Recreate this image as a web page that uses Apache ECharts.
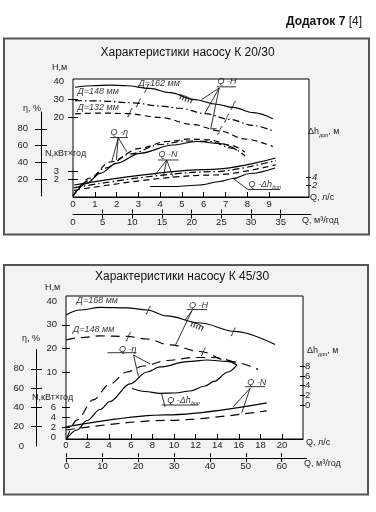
<!DOCTYPE html>
<html><head><meta charset="utf-8">
<script src="https://cdn.jsdelivr.net/npm/echarts@6/dist/echarts.min.js"></script>
<style>html,body{margin:0;padding:0;background:#fff}#c{width:376px;height:512px}</style>
</head><body><div id="c"></div>
<script>
// ================= Panel 1: насос К 20/30 (Q in л/с) =================
const k20_qTicks = [1,2,3,4,5,6,7,8,9];
const k20_qLabels = [0,1,2,3,4,5,6,7,8,9];
const k20_qm3Ticks = [5,10,15,20,25,30,35];
const k20_qm3Labels = [0,5,10,15,20,25,30,35];
const k20_hTicks = [20,30];
const k20_hLabels = [20,30,40];
const k20_etaTicks = [20,40,60,80];
const k20_etaLabels = [20,40,60,80];
const k20_nTicks = [2,3];
const k20_dhTicks = [2,4];
// Q-H curves for impeller diameters
const k20_H162 = [[0.09,36.6],[0.93,37.4],[1.70,37.8],[2.46,37.4],[3.53,36.0],[4.45,33.6],[5.52,30.0],[6.59,27.3],[7.35,25.6],[8.27,22.7],[9.17,19.4]];
const k20_H148 = [[0.09,29.3],[1.24,29.1],[2.75,28.1],[3.99,26.3],[4.91,25.1],[6.06,22.2],[7.20,19.0],[8.26,15.7],[9.17,12.7]];
const k20_H132 = [[0.09,22.0],[1.24,22.5],[2.48,22.2],[3.99,20.1],[5.51,16.2],[6.74,12.7],[7.89,8.3],[9.17,4.2]];
// Q-η curves
const k20_eta162 = [[0,0],[0.63,15.1],[1.24,27.0],[2.0,38.9],[3.07,50.8],[4.59,60.7],[5.67,64.9],[6.74,62.5],[7.52,54.8]];
const k20_eta148 = [[0,0],[0.69,17.9],[1.47,33.3],[2.61,50.0],[3.99,61.3],[5.14,65.5],[6.28,64.9],[7.29,57.1],[7.89,47.6]];
const k20_eta132 = [[0,0],[0.78,21.4],[1.70,40.5],[3.07,56.8],[4.31,64.9],[5.37,67.9],[6.28,66.7],[7.20,60.7],[7.89,52.4]];
// Q-N curves
const k20_N162 = [[0.05,1.33],[6.42,3.22],[9.3,4.58]];
const k20_N148 = [[0.05,1.0],[6.42,2.93],[9.3,4.28]];
const k20_N132 = [[0.05,0.68],[6.42,2.53],[9.3,3.76]];
// Q-Δh доп curve
const k20_dh = [[3.53,1.61],[4.68,1.61],[5.83,2.0],[6.74,2.91],[7.34,3.69],[8.12,4.99],[9.27,6.42]];
// annotations (in Q, H units)
const k20_texts = [['Д=162 мм',2.98,38.6],['Д=148 мм',0.18,34.0],['Д=132 мм',0.18,25.5],['Q -H',6.61,39.5],['Q -η',1.70,11.6],['Q -N',3.90,-0.44],['{a|Q -Δh}{s|доп}',8.03,-16.8]];
const k20_leaders = [
  [[6.61,36.8],[7.48,36.8]], [[6.71,36.2],[5.90,29.8]], [[6.71,36.2],[6.06,22.5]], [[6.71,36.2],[6.32,13.9],[6.59,13.9]],
  [[1.70,9.1],[2.52,9.1]], [[2.08,9.1],[1.78,-4.1]], [[2.08,9.1],[1.99,-3.2]], [[2.08,9.1],[2.46,1.4]],
  [[3.90,-3.17],[4.84,-3.17]], [[4.30,-3.17],[3.76,-11.4]], [[4.30,-3.17],[4.14,-12.3]], [[4.30,-3.17],[4.60,-12.6]],
  [[7.34,-13.2],[8.03,-19.3],[9.50,-19.3]]
];
const k20_breaks = [[3.38,36.0],[7.35,26.7],[3.0,28.1],[7.05,19.7],[2.61,22.7],[6.74,13.0]];
const k20_hatch = [[5.18,30.2]];

// ================= Panel 2: насос К 45/30 =================
const k45_qTicks = [2,4,6,8,10,12,14,16,18,20];
const k45_qLabels = [0,2,4,6,8,10,12,14,16,18,20];
const k45_qm3Ticks = [0,10,20,30,40,50,60];
const k45_qm3Labels = [0,10,20,30,40,50,60];
const k45_hTicks = [10,20,30];
const k45_hLabels = [10,20,30,40];
const k45_etaTicks = [20,40,60,80];
const k45_etaLabels = [0,20,40,60,80];
const k45_nTicks = [2,4,6];
const k45_nLabels = [0,2,4,6];
const k45_dhTicks = [0,2,4,6,8];
const k45_H168 = [[0,34.2],[1.30,36.3],[3.15,37.4],[5.65,37.2],[7.50,36.3],[9.35,33.8],[12.41,30.8],[15.65,27.2],[19.35,21.7]];
const k45_H148 = [[0,23.6],[1.30,24.6],[3.15,25.3],[5.65,25.1],[7.50,24.0],[9.63,21.5],[12.41,18.7],[15.19,14.5],[17.78,11.1]];
const k45_eta168 = [[0.05,7.3],[1.02,16.6],[1.94,26.4],[3.15,37.8],[4.07,46.1],[5.93,64.3],[7.50,76.7],[8.70,81.9],[11.2,87.4],[13.06,89.1],[14.91,87.6],[15.83,83.9]];
const k45_eta148 = [[0.05,7.3],[1.02,26.9],[2.50,47.7],[4.07,64.3],[5.65,76.7],[7.13,82.9],[9.35,88.6],[11.76,91.7],[13.61,91.7],[15.83,86.0]];
const k45_N168 = [[0,2.1],[9.3,4.5],[18.58,6.9]];
const k45_N148 = [[0,1.46],[9.3,3.38],[18.58,5.3]];
const k45_dh = [[6.11,3.4],[7.31,2.78],[8.70,2.41],[10.09,2.47],[11.48,2.89],[12.87,3.92],[13.7,4.85],[15.0,6.8],[15.83,8.25]];
const k45_texts = [['Д=168 мм',0.93,40.55],['Д=148 мм',0.60,28.04],['Q -H',11.34,38.43],['Q -η',4.86,19.76],['{a|Q -Δh}{s|доп}',9.32,-2.09],['Q -N',16.73,5.46]];
const k45_leaders = [
  [[11.2,36.5],[13.06,36.5]], [[11.67,36.1],[11.02,32.0]], [[11.67,36.1],[10.09,21.0]],
  [[3.84,18.19],[6.53,18.19]], [[6.25,17.22],[6.71,8.09]], [[6.25,17.22],[7.78,13.40]],
  [[8.86,-4.0],[12.25,-4.0]], [[8.84,0.97],[9.17,-4.85]],
  [[16.57,3.77],[18.45,3.77]], [[17.04,3.09],[15.49,-4.72]], [[17.04,3.09],[16.27,-7.26]]
];
const k45_breaks = [[7.62,36.3],[15.49,27.1],[5.77,25.0],[12.71,18.6]];
const k45_hatch = [[12.13,29.5]];

// ================= build =================
const FONT = 'Liberation Sans';
const TXT = '#222';
function tick(vals, inside, len){ return {show:true, inside, length:len, customValues:vals, lineStyle:{color:'#000', width:1}}; }
function lab(vals, margin, extra){ return Object.assign({show:true, customValues:vals, margin, fontSize:9.5, color:TXT, fontFamily:FONT, showMinLabel:true, showMaxLabel:true, hideOverlap:false}, extra||{}); }
function ax(grid, min, max, pos, o){
  return Object.assign({type:'value', gridIndex:grid, min, max, position:pos,
    axisLine:{show:false, onZero:false}, splitLine:{show:false}, axisTick:{show:false}, axisLabel:{show:false}}, o||{});
}
// one axis per label, so that closely spaced labels are never dropped
function labelAxes(grid, min, max, pos, vals, margin, extra){
  return vals.map(v => ax(grid, min, max, pos, {axisLabel:lab([v], margin, extra)}));
}
const LINE = {show:true, onZero:false, lineStyle:{color:'#000', width:1}};

const grid = [
  {left:73, top:79, width:236, height:118, show:true, backgroundColor:'#fff', borderColor:'#000', borderWidth:1, outerBoundsMode:'none'},
  {left:41, top:112, width:1, height:84, outerBoundsMode:'none'},
  {left:73, top:213.5, width:238, height:1, outerBoundsMode:'none'},
  {left:66, top:296, width:237, height:143, show:true, backgroundColor:'#fff', borderColor:'#000', borderWidth:1, outerBoundsMode:'none'},
  {left:36, top:349.5, width:1, height:96.5, outerBoundsMode:'none'},
  {left:66.7, top:457.2, width:240, height:1, outerBoundsMode:'none'}
];
const xAxis = [
  ax(0, 0, 10.83, 'bottom', {axisLine:LINE, axisTick:tick(k20_qTicks,true,5), axisLabel:lab(k20_qLabels,2)}),
  ax(1, 0, 1, 'bottom', {show:false}),
  ax(2, 0, 40.1, 'bottom', {axisLine:LINE, axisTick:tick(k20_qm3Ticks,false,4), axisLabel:lab(k20_qm3Labels,3)}),
  ax(2, 0, 40.1, 'top', {axisTick:tick(k20_qm3Ticks,false,4)}),
  ax(3, 0, 21.94, 'bottom', {axisLine:LINE, axisTick:tick(k45_qTicks,true,5), axisLabel:lab(k45_qLabels,1)}),
  ax(4, 0, 1, 'bottom', {show:false}),
  ax(5, 0, 66.98, 'bottom', {axisLine:LINE, axisTick:tick(k45_qm3Ticks,false,4), axisLabel:lab(k45_qm3Labels,3)}),
  ax(5, 0, 66.98, 'top', {axisTick:tick(k45_qm3Ticks,false,4)})
];
const yAxis = [
  ax(0, -23.4, 41.1, 'left', {axisTick:tick(k20_hTicks,false,5), axisLabel:lab(k20_hLabels,9)}),      //0 H
  ax(0, -23.4, 41.1, 'left', {axisTick:tick(k20_hTicks,true,5)}),                                   //1
  ax(0, -1.19, 139.29, 'left', {show:false}),                                                        //2 η hidden
  ax(0, -0.12, 14.10, 'left', {axisTick:tick(k20_nTicks,false,5)}),                                 //3 N
  ax(0, -0.12, 14.10, 'left', {axisTick:tick(k20_nTicks,true,5)}),                                  //4
  ax(0, -1.12, 29.53, 'right', {axisTick:tick(k20_dhTicks,false,2)}),                               //5 Δh
  ax(0, -1.12, 29.53, 'right', {axisTick:tick(k20_dhTicks,true,3)}),                                //6
  ax(1, 0, 100, 'left', {axisLine:LINE, axisTick:tick(k20_etaTicks,false,6), axisLabel:lab(k20_etaLabels,13)}), //7 η visible
  ax(1, 0, 100, 'right', {axisTick:tick(k20_etaTicks,false,5)}),                                    //8
  ax(2, 0, 1, 'left', {show:false}),                                                                 //9
  ax(3, -18.42, 42.25, 'left', {axisTick:tick(k45_hTicks,false,4), axisLabel:lab(k45_hLabels,9)}),  //10 H
  ax(3, -18.42, 42.25, 'left', {axisTick:tick(k45_hTicks,true,4)}),                                 //11
  ax(3, 7.25, 155.44, 'left', {show:false}),                                                         //12 η hidden
  ax(3, -0.34, 28.26, 'left', {axisTick:tick(k45_nTicks,false,4)}),                                 //13 N
  ax(3, -0.34, 28.26, 'left', {axisTick:tick(k45_nTicks,true,4)}),                                  //14
  ax(3, -7.01, 22.47, 'right', {axisTick:tick(k45_dhTicks,false,2)}),                               //15 Δh
  ax(3, -7.01, 22.47, 'right', {axisTick:tick(k45_dhTicks,true,3)}),                                //16
  ax(4, 0, 100, 'left', {axisLine:LINE, axisTick:tick(k45_etaTicks,false,5), axisLabel:lab(k45_etaLabels,12)}), //17
  ax(4, 0, 100, 'right', {axisTick:tick(k45_etaTicks,false,5)}),                                    //18
  ax(5, 0, 1, 'left', {show:false})                                                                  //19
].concat(
  labelAxes(0, -0.12, 14.10, 'left', k20_nTicks, 14),
  labelAxes(0, -1.12, 29.53, 'right', k20_dhTicks, 3, {fontStyle:'italic'}),
  labelAxes(3, -0.34, 28.26, 'left', k45_nLabels, 10),
  labelAxes(3, -7.01, 22.47, 'right', k45_dhTicks, 2)
);

const DASH1 = [6,4], DDOT = [7,3,1.5,3], DASH2 = [9,6];
function curve(xi, yi, data, type, w){
  return {type:'line', xAxisIndex:xi, yAxisIndex:yi, data, symbol:'none', smooth:0.35, smoothMonotone:'x',
    silent:true, animation:false, lineStyle:{color:'#000', width:w||1.2, type:type||'solid'}, z:3};
}
function leader(xi, yi, data){
  return {type:'line', xAxisIndex:xi, yAxisIndex:yi, data, symbol:'none', smooth:false, silent:true, animation:false,
    lineStyle:{color:'#000', width:0.8}, z:4};
}
const RICH = {a:{fontSize:9, fontStyle:'italic', color:'#000', fontFamily:FONT}, s:{fontSize:5.5, fontStyle:'italic', color:'#000', fontFamily:FONT, padding:[6,0,0,0]}};
function text(xi, yi, t){
  return {type:'scatter', xAxisIndex:xi, yAxisIndex:yi, data:[[t[1],t[2]]], symbolSize:1, itemStyle:{color:'transparent'},
    silent:true, animation:false, z:5,
    label:{show:true, position:'right', distance:0, formatter:t[0], fontSize:9, fontStyle:'italic', color:'#000', fontFamily:FONT, rich:RICH}};
}
function marks(xi, yi, data, path, size){
  return {type:'scatter', xAxisIndex:xi, yAxisIndex:yi, data, symbol:path, symbolSize:size, silent:true, animation:false, z:5,
    itemStyle:{color:'none', borderColor:'#000', borderWidth:0.9}};
}
const BREAK = 'path://M0,10 C3,10 3,6 4,5 C5,4 5,0 8,0';
const HATCH = 'path://M0,0 Q8,1 16,6 M3,0.5 L1,5 M6,1 L4,6 M9,2 L7,7 M12,3.5 L10,8 M15,5 L13,9';

const series = [
  curve(0,0,k20_H162,'solid'), curve(0,0,k20_H148,DDOT), curve(0,0,k20_H132,DASH1),
  curve(0,2,k20_eta162,'solid'), curve(0,2,k20_eta148,DDOT), curve(0,2,k20_eta132,DASH1),
  curve(0,3,k20_N162,'solid'), curve(0,3,k20_N148,DDOT), curve(0,3,k20_N132,DASH1),
  curve(0,5,k20_dh,'solid'),
  curve(4,10,k45_H168,'solid'), curve(4,10,k45_H148,DASH2),
  curve(4,12,k45_eta168,'solid'), curve(4,12,k45_eta148,DASH2),
  curve(4,13,k45_N168,'solid'), curve(4,13,k45_N148,DASH2),
  curve(4,15,k45_dh,'solid'),
  marks(0,0,k20_breaks,BREAK,[5,8]), marks(0,0,k20_hatch,HATCH,[14,9]),
  marks(4,10,k45_breaks,BREAK,[5,8]), marks(4,10,k45_hatch,HATCH,[14,9])
];
k20_leaders.forEach(d => series.push(leader(0,0,d)));
k45_leaders.forEach(d => series.push(leader(4,10,d)));
k20_texts.forEach(t => series.push(text(0,0,t)));
k45_texts.forEach(t => series.push(text(4,10,t)));

function gt(x, y, t, o){
  return {type:'text', x, y, z:10, style:Object.assign({text:t, fill:TXT, font:'9px "Liberation Sans"', textVerticalAlign:'middle', textAlign:'left'}, o||{})};
}
const SUBRICH = {a:{fontSize:9, fill:TXT, fontFamily:FONT}, s:{fontSize:5.5, fill:TXT, fontFamily:FONT, padding:[6,0,0,0]}};
const graphic = [
  {type:'rect', z:-10, shape:{x:4, y:38.5, width:365, height:196}, style:{fill:'#f3f3f3', stroke:'#555', lineWidth:2}},
  {type:'rect', z:-10, shape:{x:4, y:265, width:364, height:229.5}, style:{fill:'#f3f3f3', stroke:'#555', lineWidth:2}},
  gt(362, 22, '{b|Додаток 7} [4]', {textAlign:'right', font:'12px "Liberation Sans"', fill:'#111', rich:{b:{fontWeight:'bold', fontSize:12, fill:'#111', fontFamily:FONT}}}),
  gt(187.5, 53, 'Характеристики насосу К 20/30', {textAlign:'center', font:'12px "Liberation Sans"', fill:'#111'}),
  gt(182, 277, 'Характеристики насосу К 45/30', {textAlign:'center', font:'12px "Liberation Sans"', fill:'#111'}),
  gt(52, 67.5, 'Н,м'), gt(23, 109, 'η, %'), gt(45, 153.5, 'N,кВт×год'),
  gt(308, 132, '{a|Δh}{s|доп}{a|, м}', {rich:SUBRICH}),
  gt(310, 198, 'Q, л/с'), gt(302, 221, 'Q, м³/год'),
  gt(45, 288, 'Н,м'), gt(22, 339, 'η, %'), gt(32, 398, 'N,кВт×год'),
  gt(307, 351, '{a|Δh}{s|доп}{a|, м}', {rich:SUBRICH}),
  gt(306, 442.7, 'Q, л/с'), gt(304, 464, 'Q, м³/год')
];

const chart = echarts.init(document.getElementById('c'), null, {renderer:'canvas', width:376, height:512});
chart.setOption({animation:false, textStyle:{fontFamily:FONT}, grid, xAxis, yAxis, series, graphic});
</script></body></html>
